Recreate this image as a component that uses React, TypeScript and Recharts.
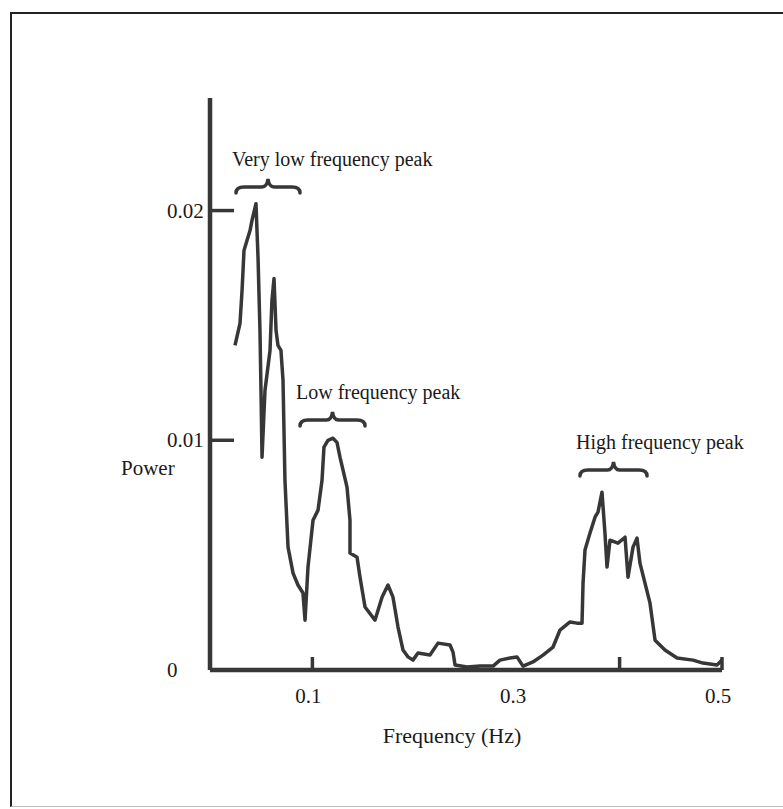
import React from "react";
import { Line, LineChart, ReferenceLine, XAxis, YAxis } from "recharts";

// Spectrum trace, frequency (Hz) and power, in drawing order
const freqHz = [
  0.0244, 0.0293, 0.0313, 0.0332, 0.0361, 0.0391, 0.041, 0.0449, 0.0469, 0.0488,
  0.0498, 0.0508, 0.0537, 0.0586, 0.0605, 0.0625, 0.0645, 0.0664, 0.0693, 0.0713,
  0.0732, 0.0762, 0.0811, 0.0859, 0.0908, 0.0928, 0.0957, 0.1006, 0.1055, 0.1094,
  0.1113, 0.1152, 0.1201, 0.124, 0.127, 0.1338, 0.1367, 0.1367, 0.1436, 0.1465,
  0.1514, 0.1611, 0.168, 0.1738, 0.1787, 0.1836, 0.1885, 0.1934, 0.1982, 0.2031,
  0.2148, 0.2227, 0.2344, 0.2373, 0.2393, 0.251, 0.2637, 0.2764, 0.2832, 0.293,
  0.2998, 0.3057, 0.3154, 0.3252, 0.335, 0.3418, 0.3516, 0.3584, 0.3633, 0.3643,
  0.3662, 0.3711, 0.376, 0.3789, 0.3828, 0.3857, 0.3877, 0.3906, 0.3984, 0.4053,
  0.4082, 0.4131, 0.417, 0.4199, 0.4248, 0.4297, 0.4346, 0.4443, 0.4561, 0.4717,
  0.4814, 0.4951, 0.5,
];

const power = [
  0.01413, 0.01509, 0.01652, 0.01826, 0.0187, 0.01913, 0.01957, 0.0203, 0.01796, 0.01478,
  0.01217, 0.00926, 0.01217, 0.01391, 0.01609, 0.01704, 0.01478, 0.01413, 0.01391, 0.01261,
  0.00826, 0.00535, 0.00422, 0.0037, 0.00335, 0.00217, 0.00448, 0.00652, 0.00696, 0.00826,
  0.0097, 0.01, 0.01009, 0.00991, 0.00926, 0.00796, 0.00652, 0.00509, 0.00491, 0.00404,
  0.00274, 0.00217, 0.00317, 0.0037, 0.00317, 0.00187, 0.00087, 0.00057, 0.00043, 0.00074,
  0.00065, 0.00117, 0.00109, 0.00078, 0.00022, 0.00013, 0.00017, 0.00017, 0.00043, 0.00052,
  0.00057, 0.00017, 0.00035, 0.00065, 0.001, 0.00174, 0.00209, 0.00204, 0.00204, 0.00378,
  0.00522, 0.00596, 0.00665, 0.00687, 0.00774, 0.00596, 0.00448, 0.00565, 0.00552, 0.00578,
  0.00404, 0.00535, 0.00574, 0.00465, 0.00378, 0.00291, 0.0013, 0.00087, 0.00052, 0.00043,
  0.0003, 0.00022, 0.00043,
];

const xTicks = [0.1, 0.3, 0.4, 0.5];
const xLabelled = [0.1, 0.3, 0.5];
const xMarked = [0.1, 0.4, 0.5];
const yTicks = [0, 0.01, 0.02];
const yMarked = [0.01, 0.02];

// Bracketed peak annotations
const peakLabels = ["Very low frequency peak", "Low frequency peak", "High frequency peak"];
const peakFrom = [0.0254, 0.0879, 0.3613];
const peakTo = [0.0879, 0.1514, 0.4268];
const peakLevel = [0.02103, 0.01088, 0.00871];

const data = freqHz.map((hz, i) => ({ hz, power: power[i] }));

const INK = "#373737";
const FONT = "'Liberation Serif', 'Times New Roman', serif";

function XTick({ x, y, payload }: any) {
  const v = payload.value;
  return (
    <g>
      {xMarked.includes(v) && (
        <line x1={x} x2={x} y1={y} y2={y - 13} stroke={INK} strokeWidth={3.5} />
      )}
      {xLabelled.includes(v) && (
        <text x={x - 4} y={y + 33} textAnchor="middle" fontSize={21} fontFamily={FONT} fill="#1a1a1a">
          {String(v)}
        </text>
      )}
    </g>
  );
}

function YTick({ x, y, payload }: any) {
  const v = payload.value;
  return (
    <g>
      {yMarked.includes(v) && (
        <line x1={x} x2={x + 24} y1={y} y2={y} stroke={INK} strokeWidth={3.5} />
      )}
      <text x={x - 43} y={y + 7} textAnchor="start" fontSize={21} fontFamily={FONT} fill="#1a1a1a">
        {String(v)}
      </text>
    </g>
  );
}

function braceShape(label: string) {
  return (props: any) => {
    const { x1, x2, y1: y } = props;
    const m = (x1 + x2) / 2;
    const d =
      `M${x1},${y + 6} Q${x1},${y} ${x1 + 8},${y} L${m - 6},${y} ` +
      `Q${m - 1},${y} ${m},${y - 8} Q${m + 1},${y} ${m + 6},${y} ` +
      `L${x2 - 8},${y} Q${x2},${y} ${x2},${y + 6}`;
    return (
      <g>
        <path d={d} fill="none" stroke={INK} strokeWidth={3.5} strokeLinecap="round" />
        <text x={x1 - 4} y={y - 21} fontSize={20} fontFamily={FONT} fill="#1a1a1a">
          {label}
        </text>
      </g>
    );
  };
}

export default function App() {
  return (
    <div
      style={{
        position: "absolute",
        left: 0,
        top: 0,
        width: 783,
        height: 809,
        overflow: "hidden",
        background: "#fff",
      }}
    >
      <div
        style={{
          position: "absolute",
          left: 10,
          top: 12,
          width: 800,
          height: 792,
          borderLeft: "2px solid #222",
          borderTop: "2px solid #222",
          borderBottom: "1px solid #bbb",
        }}
      />
      <div style={{ position: "absolute", left: 0, top: 0 }}>
        <LineChart
          width={783}
          height={809}
          data={data}
          margin={{ top: 98, right: 61, bottom: 79, left: 150 }}
        >
          <XAxis
            type="number"
            dataKey="hz"
            domain={[0, 0.5]}
            ticks={xTicks}
            interval={0}
            height={60}
            tickSize={0}
            tickMargin={0}
            tickLine={false}
            axisLine={{ stroke: INK, strokeWidth: 4.5 }}
            tick={<XTick />}
            label={(p: any) => {
              const vb = p.viewBox;
              return (
                <text
                  x={vb.x + vb.width / 2 - 14}
                  y={vb.y + 73}
                  textAnchor="middle"
                  fontSize={22}
                  fontFamily={FONT}
                  fill="#1a1a1a"
                >
                  Frequency (Hz)
                </text>
              );
            }}
          />
          <YAxis
            type="number"
            domain={[0, 0.0249]}
            ticks={yTicks}
            interval={0}
            width={60}
            tickSize={0}
            tickMargin={0}
            tickLine={false}
            axisLine={{ stroke: INK, strokeWidth: 4.5 }}
            tick={<YTick />}
            label={(p: any) => {
              const vb = p.viewBox;
              return (
                <text
                  x={vb.x - 29}
                  y={vb.y + 377}
                  fontSize={21}
                  fontFamily={FONT}
                  fill="#1a1a1a"
                >
                  Power
                </text>
              );
            }}
          />
          {peakLabels.map((label, i) => (
            <ReferenceLine
              key={label}
              segment={[
                { x: peakFrom[i], y: peakLevel[i] },
                { x: peakTo[i], y: peakLevel[i] },
              ]}
              ifOverflow="visible"
              shape={braceShape(label)}
            />
          ))}
          <Line
            type="linear"
            dataKey="power"
            stroke={INK}
            strokeWidth={3.5}
            strokeLinejoin="round"
            dot={false}
            isAnimationActive={false}
          />
        </LineChart>
      </div>
    </div>
  );
}
